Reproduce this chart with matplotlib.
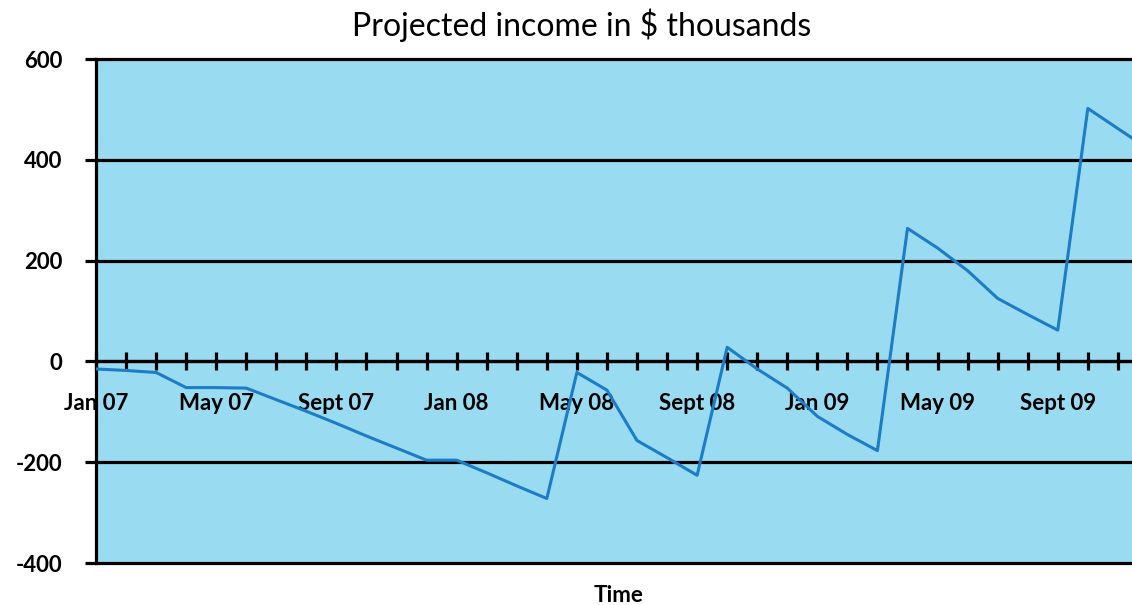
import matplotlib.pyplot as plt

# monthly projected income, Jan 07 .. Dec 09 ($ thousands)
months = list(range(36))
income = [-15, -18, -22, -52, -52, -53, -76, -99, -123, -148, -172, -196,
          -196, -221, -247, -272, -22, -57, -157, -191, -226, 28, -15, -53,
          -109, -145, -177, 264, 225, 180, 125, 93, 62, 502, 462, 422]

tick_labels = ["Jan 07", "May 07", "Sept 07", "Jan 08", "May 08",
               "Sept 08", "Jan 09", "May 09", "Sept 09"]
y_ticks = [-400, -200, 0, 200, 400, 600]

plt.rcParams['font.family'] = ['Lato', 'DejaVu Sans']

fig = plt.figure(figsize=(11.32, 6.05), dpi=100)
ax = fig.add_axes([96 / 1132, 1 - 563 / 605, 1 - 96 / 1132, (563 - 59) / 605])
ax.set_facecolor("#99dcf2")

for y in y_ticks:
    ax.axhline(y, color="black", lw=2.3, zorder=1, clip_on=False)

ax.plot(months, income, color="#1c7cc6", lw=2.2, zorder=3)

ax.set_xlim(0, 34.47)
ax.set_ylim(-400, 600)

ax.spines["top"].set_visible(False)
ax.spines["right"].set_visible(False)
ax.spines["left"].set_linewidth(2.3)
ax.spines["bottom"].set_position(("data", 0))
ax.spines["bottom"].set_linewidth(2.3)

ax.set_yticks(y_ticks)
ax.set_yticklabels([str(v) for v in y_ticks], fontsize=16, fontweight="bold")
ax.tick_params(axis="y", direction="out", length=8, width=2.3, pad=16)

labels = []
for i in range(35):
    labels.append(tick_labels[i // 4] if i % 4 == 0 else "")
ax.set_xticks(range(35))
ax.set_xticklabels(labels, fontsize=16, fontweight="bold")
ax.tick_params(axis="x", direction="inout", length=13, width=2.3, pad=16)

fig.text(582 / 1132, 1 - 25 / 605, "Projected income in $ thousands",
         ha="center", va="center", fontsize=23)
fig.text(619 / 1132, 1 - 595 / 605, "Time", ha="center", va="center",
         fontsize=16, fontweight="bold")

fig.savefig("out.png", dpi=100)
